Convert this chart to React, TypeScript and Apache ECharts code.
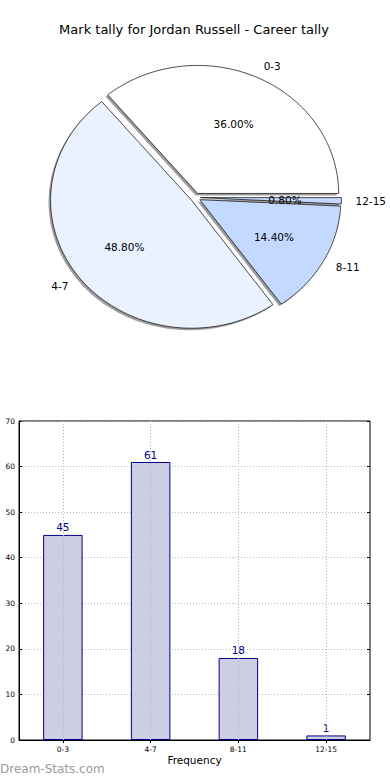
import React, { useEffect, useRef } from "react";
import * as echarts from "echarts";

const pieLabels = ["0-3", "4-7", "8-11", "12-15"];
const pieValues = [45, 61, 18, 1];
const pieColors = ["#ffffff", "#eaf1ff", "#c4d9ff", "#c4d9ff"];

const barCategories = ["0-3", "4-7", "8-11", "12-15"];
const barValues = [45, 61, 18, 1];

const titleText = "Mark tally for Jordan Russell - Career tally";
const xAxisName = "Frequency";
const watermark = "Dream-Stats.com";

const FONT = "'DejaVu Sans', sans-serif";

export default function App() {
  const ref = useRef<HTMLDivElement>(null);
  useEffect(() => {
    if (!ref.current) return;
    const chart = echarts.init(ref.current, null, { renderer: "svg" });
    const total = pieValues.reduce((a, b) => a + b, 0);
    const CX = 195.5;
    const CY = 197.5;
    const RX = 141;
    const RY = 128;
    const EXPLODE = 0.035;

    const renderSlice = (params: any, api: any) => {
      const i = params.dataIndex;
      const v = api.value(0);
      let start = 0;
      for (let j = 0; j < i; j++) start += pieValues[j];
      const a0 = (start / total) * Math.PI * 2;
      const a1 = ((start + v) / total) * Math.PI * 2;
      const mid = (a0 + a1) / 2;
      const cx = CX + EXPLODE * RX * Math.cos(mid);
      const cy = CY - EXPLODE * RY * Math.sin(mid);
      const pts: number[][] = [[cx, cy]];
      const steps = Math.max(2, Math.ceil(((a1 - a0) * 180) / Math.PI));
      for (let k = 0; k <= steps; k++) {
        const a = a0 + ((a1 - a0) * k) / steps;
        pts.push([cx + RX * Math.cos(a), cy - RY * Math.sin(a)]);
      }
      const shadowPts = pts.map((p) => [p[0] - 2, p[1] + 2]);
      const lx = cx + 1.1 * RX * Math.cos(mid);
      const ly = cy - 1.1 * RY * Math.sin(mid);
      const px = cx + 0.6 * RX * Math.cos(mid);
      const py = cy - 0.6 * RY * Math.sin(mid);
      const pct = ((v / total) * 100).toFixed(2) + "%";
      return {
        type: "group",
        children: [
          {
            type: "polygon",
            shape: { points: shadowPts },
            style: { fill: "rgba(60,60,60,0.5)", stroke: "none" },
            z2: i * 2,
          },
          {
            type: "polygon",
            shape: { points: pts },
            style: { fill: pieColors[i], stroke: "#000", lineWidth: 0.7 },
            z2: i * 2 + 1,
          },
          {
            type: "text",
            x: lx,
            y: ly,
            z2: 100,
            style: {
              text: pieLabels[i],
              fill: "#000",
              font: `10.5px ${FONT}`,
              align: lx > cx ? "left" : "right",
              verticalAlign: "middle",
            },
          },
          {
            type: "text",
            x: px,
            y: py,
            z2: 100,
            style: {
              text: pct,
              fill: "#000",
              font: `10.5px ${FONT}`,
              align: "center",
              verticalAlign: "middle",
            },
          },
        ],
      };
    };

    const option: any = {
      animation: false,
      backgroundColor: "#ffffff",
      title: {
        text: titleText,
        left: 189,
        top: 18,
        textAlign: "center",
        textStyle: { fontFamily: FONT, fontSize: 13, fontWeight: "normal", color: "#000" },
      },
      graphic: [
        {
          type: "text",
          left: 0,
          top: 763,
          style: {
            text: watermark,
            fill: "#9a9a9a",
            font: `12px ${FONT}`,
          },
        },
      ],
      grid: {
        left: 19,
        right: 20,
        top: 421,
        bottom: 40,
        show: true,
        borderColor: "#000",
        borderWidth: 1,
        backgroundColor: "transparent",
      },
      xAxis: [
        {
          type: "category",
          data: barCategories,
          position: "bottom",
          name: xAxisName,
          nameLocation: "middle",
          nameGap: 14,
          nameTextStyle: { fontFamily: FONT, fontSize: 10.5, color: "#000" },
          axisLine: { show: true, lineStyle: { color: "#000" } },
          axisTick: { show: true, inside: true, alignWithLabel: true, length: 3, lineStyle: { color: "#000" } },
          axisLabel: { fontFamily: FONT, fontSize: 7.5, color: "#000", margin: 5 },
          splitLine: { show: false },
        },
        {
          type: "category",
          data: barCategories,
          position: "top",
          axisLine: { show: false },
          axisTick: { show: true, inside: true, alignWithLabel: true, length: 3, lineStyle: { color: "#000" } },
          axisLabel: { show: false },
          splitLine: { show: false },
        },
      ],
      yAxis: [
        {
          type: "value",
          min: 0,
          max: 70,
          interval: 10,
          position: "left",
          axisLine: { show: true, lineStyle: { color: "#000" } },
          axisTick: { show: true, inside: true, length: 3, lineStyle: { color: "#000" } },
          axisLabel: { fontFamily: FONT, fontSize: 7.5, color: "#000", margin: 4 },
          splitLine: { show: true, lineStyle: { color: "#b8b8b8", type: [1, 2], width: 1 } },
        },
        {
          type: "value",
          min: 0,
          max: 70,
          interval: 10,
          position: "right",
          axisLine: { show: false },
          axisTick: { show: true, inside: true, length: 3, lineStyle: { color: "#000" } },
          axisLabel: { show: false },
          splitLine: { show: false },
        },
      ],
      series: [
        {
          type: "custom",
          coordinateSystem: "none",
          renderItem: renderSlice,
          data: pieValues.map((v) => [v]),
          silent: true,
        },
        {
          type: "bar",
          xAxisIndex: 0,
          yAxisIndex: 0,
          data: barValues,
          barWidth: "45%",
          itemStyle: { color: "#cdcde3", borderColor: "#00008b", borderWidth: 1 },
          label: {
            show: true,
            position: "top",
            distance: 2,
            color: "#00008b",
            fontFamily: FONT,
            fontSize: 10.5,
          },
          markLine: {
            silent: true,
            symbol: "none",
            label: { show: false },
            lineStyle: { color: "#b0b0b0", type: [1, 2], width: 1 },
            data: barCategories.map((c) => ({ xAxis: c })),
          },
        },
      ],
    };
    chart.setOption(option);
    return () => chart.dispose();
  }, []);
  return (
    <div
      ref={ref}
      style={{ position: "absolute", left: 0, top: 0, width: 390, height: 780 }}
    />
  );
}
